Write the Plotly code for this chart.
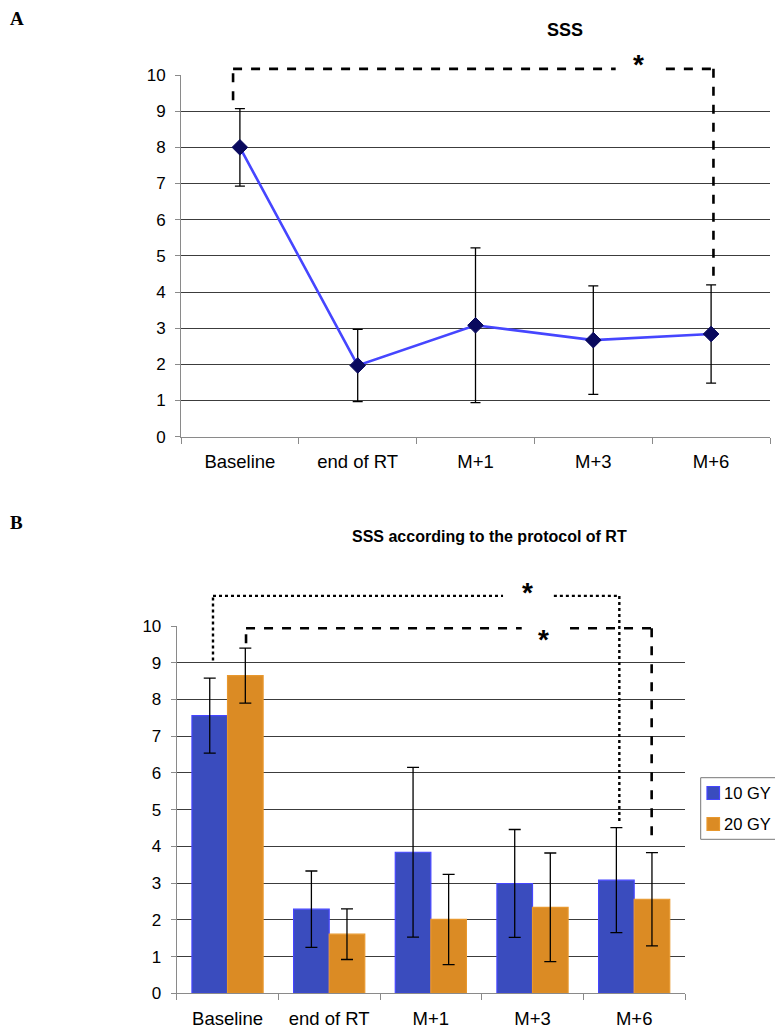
import plotly.graph_objects as go

# ---------------- data ----------------
categories = ["Baseline", "end of RT", "M+1", "M+3", "M+6"]
sss_mean = [8.0, 1.97, 3.08, 2.67, 2.84]
sss_err = [1.07, 1.0, 2.14, 1.5, 1.36]

gy10_mean = [7.56, 2.29, 3.84, 2.99, 3.08]
gy10_err = [1.02, 1.04, 2.31, 1.47, 1.43]
gy20_mean = [8.65, 1.61, 2.01, 2.34, 2.56]
gy20_err = [0.75, 0.69, 1.23, 1.48, 1.27]

series_names = ["10 GY", "20 GY"]
series_colors = ["#3A4CBE", "#DB8B24"]
series_edges = ["#4545FF", "#E8982E"]
y_ticks = list(range(0, 11))
grid_vals = list(range(1, 10))

W, H = 775, 1030
FONT = "Arial, Liberation Sans, sans-serif"
AXIS_GRAY = "#8a8a8a"
GRID = "#3c3c3c"

fig = go.Figure()

# Panel A: line with error bars
fig.add_trace(go.Scatter(
    x=categories, y=sss_mean, mode="lines+markers",
    line=dict(color="#4646FF", width=2.6),
    marker=dict(symbol="diamond", size=12, color="#0A0A5E",
                line=dict(color="#0A0A5E", width=1)),
    error_y=dict(type="data", array=sss_err, visible=True,
                 color="black", thickness=1.3, width=5),
    showlegend=False, xaxis="x", yaxis="y"))

# Panel B: grouped bars
for name, vals, errs, col, edge in zip(series_names, [gy10_mean, gy20_mean],
                                        [gy10_err, gy20_err], series_colors, series_edges):
    fig.add_trace(go.Bar(
        x=categories, y=vals, name=name, showlegend=False,
        marker=dict(color=col, line=dict(color=edge, width=1.2)),
        error_y=dict(type="data", array=errs, visible=True,
                     color="black", thickness=1.3, width=6),
        xaxis="x2", yaxis="y2"))


def xaxis_cfg(domain, anchor):
    return dict(domain=domain, anchor=anchor, type="category",
                range=[-0.5, 4.5], showline=True, linecolor=AXIS_GRAY,
                linewidth=1, ticks="outside", tickson="boundaries",
                ticklen=6, tickcolor=AXIS_GRAY, showgrid=False,
                tickfont=dict(family=FONT, size=18.5, color="black"),
                ticklabelstandoff=8, automargin=False, fixedrange=True)


def yaxis_cfg(domain, anchor):
    return dict(domain=domain, anchor=anchor, range=[0, 10],
                tickvals=y_ticks, showline=True, linecolor=AXIS_GRAY,
                linewidth=1, ticks="outside", ticklen=5,
                tickcolor=AXIS_GRAY, showgrid=False, zeroline=False,
                minor=dict(tickvals=grid_vals, showgrid=True,
                           gridcolor=GRID, gridwidth=1, ticks=""),
                tickfont=dict(family=FONT, size=17, color="black"),
                ticklabelstandoff=6, automargin=False, fixedrange=True)


fig.update_layout(
    width=W, height=H,
    margin=dict(l=0, r=0, t=0, b=0, autoexpand=False),
    paper_bgcolor="white", plot_bgcolor="white",
    barmode="group", bargap=0.3, bargroupgap=0,
    showlegend=False,
    xaxis=xaxis_cfg([181 / W, 770 / W], "y"),
    yaxis=yaxis_cfg([1 - 436.7 / H, 1 - 75 / H], "x"),
    xaxis2=xaxis_cfg([176.7 / W, 685 / W], "y2"),
    yaxis2=yaxis_cfg([1 - 993.3 / H, 1 - 626 / H], "x2"),
    font=dict(family=FONT),
)


# helpers: category index / value -> axis-domain fraction
def xd(c):
    return (c + 0.5) / 5.0


def yd(v):
    return v / 10.0


shapes = []


def bracket(xa, ya, pts, dash, width):
    for (x0, y0), (x1, y1) in zip(pts[:-1], pts[1:]):
        shapes.append(dict(type="line", xref=xa + " domain", yref=ya + " domain",
                           x0=xd(x0), y0=yd(y0), x1=xd(x1), y1=yd(y1),
                           line=dict(color="black", width=width, dash=dash)))


# Panel A bracket (dashed) with gap for the star
bracket("x", "y", [(-0.058, 9.3), (-0.058, 10.17), (3.19, 10.17)], "dash", 2.6)
bracket("x", "y", [(3.616, 10.17), (4.02, 10.17), (4.02, 4.39)], "dash", 2.6)

# Panel B dotted bracket (10 GY)
bracket("x2", "y2", [(-0.143, 9.06), (-0.143, 10.82), (2.71, 10.82)], "dot", 2.4)
bracket("x2", "y2", [(3.21, 10.82), (3.854, 10.82), (3.854, 4.64)], "dot", 2.4)
# Panel B dashed bracket (20 GY)
bracket("x2", "y2", [(0.182, 9.53), (0.182, 9.94), (2.894, 9.94)], "dash", 2.6)
bracket("x2", "y2", [(3.369, 9.94), (4.172, 9.94), (4.172, 4.22)], "dash", 2.6)

# legend box (cut off by the right edge, as in the original)
LEG_X0, LEG_TOP, LEG_BOT = 700.7, 777.7, 839.3
shapes.append(dict(type="rect", xref="paper", yref="paper",
                   x0=LEG_X0 / W, x1=1.05, y0=1 - LEG_BOT / H, y1=1 - LEG_TOP / H,
                   line=dict(color="#777777", width=1), fillcolor="white", layer="below"))
leg_rows = [793, 824]
for yc, col, edge in zip(leg_rows, series_colors, series_edges):
    shapes.append(dict(type="rect", xref="paper", yref="paper",
                       x0=707 / W, x1=719.5 / W, y0=1 - (yc + 6.5) / H, y1=1 - (yc - 6.5) / H,
                       line=dict(color=edge, width=1.2), fillcolor=col))

fig.update_layout(shapes=shapes)

STAR = dict(family=FONT, size=28, color="black")
annotations = [
    dict(text="<b>A</b>", xref="paper", yref="paper", x=8 / W, y=1 - 18 / H,
         xanchor="left", yanchor="middle", showarrow=False,
         font=dict(family="Liberation Serif, Times New Roman, serif", size=19, color="black")),
    dict(text="<b>B</b>", xref="paper", yref="paper", x=8 / W, y=1 - 522 / H,
         xanchor="left", yanchor="middle", showarrow=False,
         font=dict(family="Liberation Serif, Times New Roman, serif", size=19, color="black")),
    dict(text="<b>SSS</b>", xref="paper", yref="paper", x=565 / W, y=1 - 30 / H,
         xanchor="center", yanchor="middle", showarrow=False,
         font=dict(family=FONT, size=18, color="black")),
    dict(text="<b>SSS according to the protocol of RT</b>", xref="paper", yref="paper",
         x=490 / W, y=1 - 536 / H, xanchor="center", yanchor="middle", showarrow=False,
         font=dict(family=FONT, size=16, color="black")),
    # stars
    dict(text="<b>*</b>", xref="x domain", yref="y domain", x=xd(3.386), y=yd(10.3),
         xanchor="center", yanchor="middle", showarrow=False, font=STAR),
    dict(text="<b>*</b>", xref="x2 domain", yref="y2 domain", x=xd(2.955), y=yd(10.92),
         xanchor="center", yanchor="middle", showarrow=False, font=STAR),
    dict(text="<b>*</b>", xref="x2 domain", yref="y2 domain", x=xd(3.113), y=yd(9.62),
         xanchor="center", yanchor="middle", showarrow=False, font=STAR),
]
# legend labels
for yc, name in zip(leg_rows, series_names):
    annotations.append(dict(text=name, xref="paper", yref="paper", x=722 / W, y=1 - yc / H,
                            xanchor="left", yanchor="middle", showarrow=False,
                            font=dict(family=FONT, size=16.5, color="black")))
fig.update_layout(annotations=annotations)

fig.write_html(
    "out.html",
    config={"displayModeBar": False},
    post_script="document.body.style.margin='0';document.body.style.overflow='hidden';",
)
